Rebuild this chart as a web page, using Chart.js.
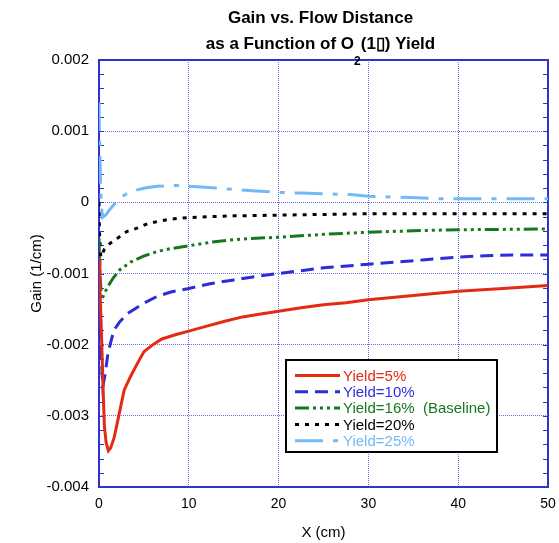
<!DOCTYPE html>
<html>
<head>
<meta charset="utf-8">
<script src="https://cdn.jsdelivr.net/npm/chart.js@4.4.0/dist/chart.umd.min.js"></script>
<style>
html, body { margin: 0; padding: 0; background: #fff; }
#wrap { width: 559px; height: 543px; position: relative; }
</style>
</head>
<body>
<div id="wrap"><canvas id="gain-chart"></canvas></div>
<script>
"use strict";
// values: x in cm, gain in 1/cm
const x5 = [0, 0.1, 0.25, 0.45, 0.6, 0.8, 1.05, 1.3, 1.7, 2.2, 2.8, 3.5, 4.2, 5.0, 6.0, 7.0, 8.5, 10, 12, 14, 16, 18, 20, 22.5, 25, 27.5, 30, 35, 40, 45, 50];
const gain5 = [-0.0008, -0.0012, -0.00175, -0.0026, -0.00315, -0.00338, -0.00349, -0.00345, -0.0033, -0.003, -0.00264, -0.00245, -0.00228, -0.0021, -0.002, -0.00192, -0.00186, -0.00181, -0.00174, -0.00167, -0.00161, -0.00157, -0.00153, -0.00148, -0.00144, -0.00141, -0.00137, -0.00131, -0.00125, -0.00121, -0.00117];

const x10 = [0, 0.1, 0.25, 0.43, 0.7, 1.0, 1.4, 1.7, 2.3, 3.2, 4.2, 5.1, 6.5, 8, 10, 12.5, 15, 17.5, 20, 22.5, 25, 28, 30, 33, 36, 40, 43, 46, 50];
const gain10 = [-0.0009, -0.0015, -0.0022, -0.00259, -0.0024, -0.00212, -0.00192, -0.00179, -0.00168, -0.00156, -0.00148, -0.00141, -0.00132, -0.00126, -0.00121, -0.00114, -0.00109, -0.00104, -0.001, -0.00096, -0.00092, -0.00089, -0.00087, -0.00084, -0.00081, -0.00077, -0.00075, -0.00074, -0.00074];

const x16 = [0, 0.1, 0.3, 0.6, 1.0, 1.6, 2.3, 3.5, 4.9, 6.5, 8, 10, 12.5, 15, 17.5, 20, 25, 30, 35, 40, 45, 50];
const gain16 = [-0.0005, -0.001, -0.00137, -0.00128, -0.00118, -0.00106, -0.00095, -0.00084, -0.00076, -0.00069, -0.00065, -0.00061, -0.00056, -0.000525, -0.000505, -0.00049, -0.00045, -0.00042, -0.0004, -0.000385, -0.00038, -0.000375];

const x20 = [0, 0.05, 0.2, 0.6, 1.2, 2.0, 3.1, 4.3, 5.4, 6.5, 7.7, 8.8, 10, 12.5, 15, 17.5, 20, 25, 30, 35, 40, 45, 50];
const gain20 = [0, -0.0004, -0.00077, -0.00066, -0.00058, -0.00051, -0.00041, -0.00036, -0.0003, -0.00027, -0.00024, -0.000225, -0.000215, -0.0002, -0.00019, -0.000185, -0.00018, -0.00017, -0.00016, -0.00016, -0.00016, -0.00016, -0.00016];

const x25 = [0, 0.05, 0.15, 0.25, 0.42, 0.8, 1.2, 1.6, 2.1, 2.8, 3.6, 5.1, 6.5, 8, 9, 11, 13, 15, 17.5, 20, 22.5, 25, 28, 30, 34, 38, 42, 46, 50];
const gain25 = [0.0014, 0.001, 0.0004, -0.00005, -0.00021, -0.00017, -0.0001, -0.00004, 0.00004, 0.0001, 0.000155, 0.0002, 0.000225, 0.000235, 0.000235, 0.00022, 0.0002, 0.00018, 0.00016, 0.00014, 0.00013, 0.00012, 0.00011, 0.000085, 0.00007, 0.00005, 0.00005, 0.00005, 0.00005];

const seriesLabels = ["Yield=5%", "Yield=10%", "Yield=16%  (Baseline)", "Yield=20%", "Yield=25%"];
const xTicks = [0, 10, 20, 30, 40, 50];
const xTickLabels = ["0", "10", "20", "30", "40", "50"];
const yTicks = [-0.004, -0.003, -0.002, -0.001, 0, 0.001, 0.002];
const yTickLabels = ["-0.004", "-0.003", "-0.002", "-0.001", "0", "0.001", "0.002"];

const FONT = "'Liberation Sans', Arial, sans-serif";
const axisBlue = "#3232d2";
const gridBlue = "#6e6ee6";
const colors = ["#e42a12", "#2c2cdc", "#14791e", "#000000", "#72b9f7"];
const dashes = [[], [13, 7], [14, 4, 3, 4, 3, 4, 3, 4], [4, 6], [28, 10, 5, 10]];

const xs = [x5, x10, x16, x20, x25];
const gains = [gain5, gain10, gain16, gain20, gain25];

const datasets = seriesLabels.map((label, k) => ({
    label: label,
    data: xs[k].map((x, i) => ({ x: x, y: gains[k][i] })),
    showLine: true,
    borderColor: colors[k],
    borderWidth: 3,
    borderDash: dashes[k],
    pointRadius: 0,
    tension: 0,
    fill: false,
}));

const framePlugin = {
    id: "frame",
    beforeDatasetsDraw(chart) {
        const { ctx, chartArea: a, scales } = chart;
        ctx.save();
        ctx.strokeStyle = axisBlue;
        ctx.lineWidth = 1;
        for (let k = 0; k <= 30; k++) {
            const py = Math.round(scales.y.getPixelForValue(-0.004 + k * 0.0002)) + 0.5;
            ctx.beginPath();
            ctx.moveTo(a.left, py); ctx.lineTo(a.left + 5, py);
            ctx.moveTo(a.right - 5, py); ctx.lineTo(a.right, py);
            ctx.stroke();
        }
        ctx.lineWidth = 2;
        ctx.strokeRect(a.left, a.top, a.right - a.left, a.bottom - a.top);
        ctx.restore();
    },
};

const titlePlugin = {
    id: "titleLines",
    afterDraw(chart) {
        const { ctx, chartArea: a } = chart;
        const cx = (a.left + a.right) / 2 - 3;
        ctx.save();
        ctx.fillStyle = "#000";
        ctx.textBaseline = "alphabetic";
        ctx.font = "bold 17px " + FONT;
        ctx.textAlign = "center";
        ctx.fillText("Gain vs. Flow Distance", cx, 23);
        const partA = "as a Function of O";
        const sub = "2";
        const partB = "(1\u25AF) Yield";
        const wA = ctx.measureText(partA).width;
        const wB = ctx.measureText(partB).width;
        ctx.font = "bold 12px " + FONT;
        const wS = ctx.measureText(sub).width;
        let x0 = cx - (wA + wS + wB) / 2;
        ctx.textAlign = "left";
        ctx.font = "bold 17px " + FONT;
        ctx.fillText(partA, x0, 49);
        ctx.font = "bold 12px " + FONT;
        ctx.fillText(sub, x0 + wA, 65);
        ctx.font = "bold 17px " + FONT;
        ctx.fillText(partB, x0 + wA + wS, 49);
        ctx.restore();
    },
};

const legendPlugin = {
    id: "boxLegend",
    afterDatasetsDraw(chart) {
        const { ctx, chartArea: a } = chart;
        const bx = a.left + 187, by = a.top + 300, bw = 211, bh = 92;
        ctx.save();
        ctx.fillStyle = "#fff";
        ctx.fillRect(bx, by, bw, bh);
        ctx.strokeStyle = "#000";
        ctx.lineWidth = 2;
        ctx.strokeRect(bx, by, bw, bh);
        ctx.font = "15px " + FONT;
        ctx.textBaseline = "middle";
        ctx.textAlign = "left";
        chart.data.datasets.forEach((ds, k) => {
            const ry = by + 15.5 + k * 16.3;
            ctx.strokeStyle = ds.borderColor;
            ctx.lineWidth = 3;
            ctx.setLineDash(ds.borderDash);
            ctx.beginPath();
            ctx.moveTo(bx + 9, ry);
            ctx.lineTo(bx + 54, ry);
            ctx.stroke();
            ctx.setLineDash([]);
            ctx.fillStyle = ds.borderColor;
            ctx.fillText(ds.label, bx + 57, ry + 1);
        });
        ctx.restore();
    },
};

new Chart("gain-chart", {
    type: "scatter",
    data: { datasets: datasets },
    options: {
        responsive: true,
        maintainAspectRatio: false,
        animation: false,
        layout: { padding: { top: 60, right: 11, left: 0, bottom: 0 } },
        plugins: {
            legend: { display: false },
            title: { display: false },
            tooltip: { enabled: false },
        },
        scales: {
            x: {
                type: "linear",
                min: 0,
                max: 50,
                afterBuildTicks: s => { s.ticks = xTicks.map(v => ({ value: v })); },
                afterFit: s => { s.height = 56; s.paddingRight = 0; s.paddingLeft = 0; },
                ticks: {
                    callback: (v, i) => xTickLabels[i],
                    color: "#000",
                    font: { size: 14, family: FONT },
                    padding: 9,
                    maxRotation: 0,
                    autoSkip: false,
                },
                grid: { color: gridBlue, lineWidth: 1, drawTicks: false },
                border: { display: false, dash: [1, 1] },
                title: {
                    display: true,
                    text: "X (cm)",
                    color: "#000",
                    font: { size: 15, family: FONT },
                    padding: { top: 0, bottom: 1 },
                },
            },
            y: {
                type: "linear",
                min: -0.004,
                max: 0.002,
                afterBuildTicks: s => { s.ticks = yTicks.map(v => ({ value: v })); },
                afterFit: s => { s.width = 99; s.paddingTop = 0; s.paddingBottom = 0; },
                ticks: {
                    callback: (v, i) => yTickLabels[i],
                    color: "#000",
                    font: { size: 15, family: FONT },
                    padding: 10,
                    autoSkip: false,
                },
                grid: { color: gridBlue, lineWidth: 1, drawTicks: false },
                border: { display: false, dash: [1, 1] },
                title: {
                    display: true,
                    text: "Gain (1/cm)",
                    color: "#000",
                    font: { size: 15, family: FONT },
                    padding: { top: 28, bottom: 0 },
                },
            },
        },
    },
    plugins: [framePlugin, titlePlugin, legendPlugin],
});
</script>
</body>
</html>
